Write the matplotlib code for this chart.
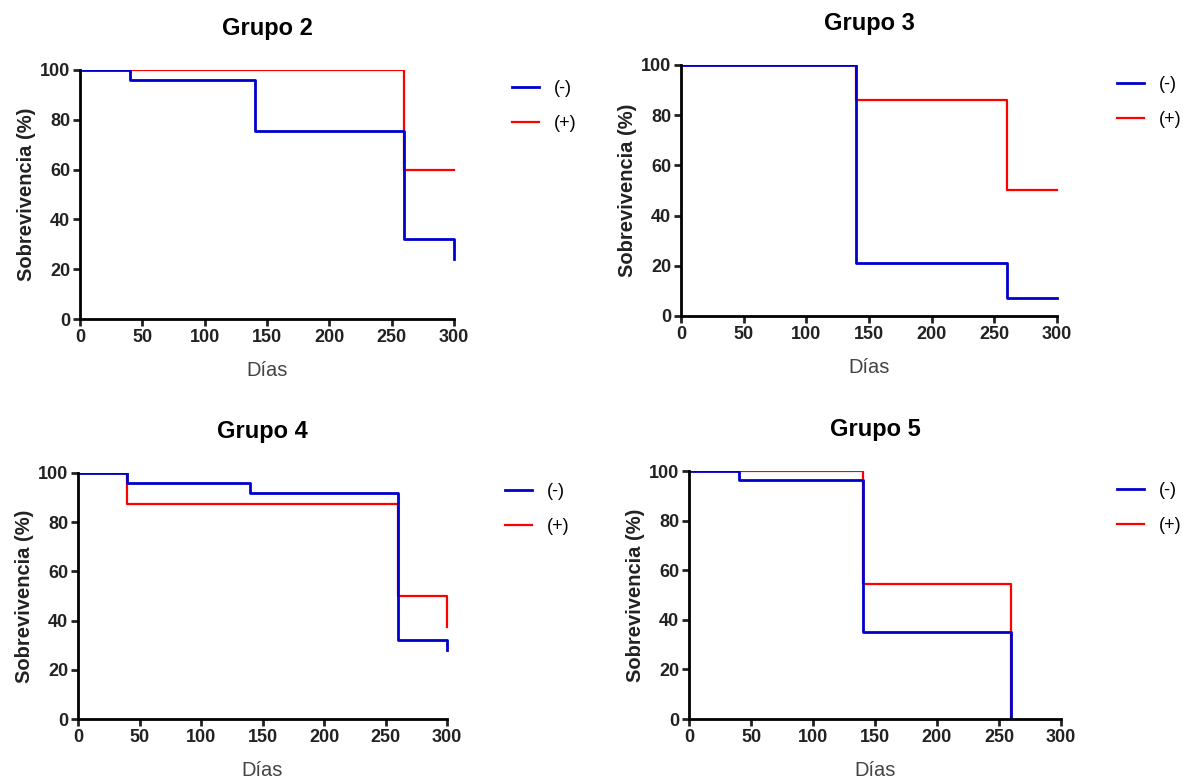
import matplotlib
matplotlib.use("Agg")
import matplotlib.pyplot as plt
from matplotlib.patches import Rectangle

plt.rcParams["font.family"] = ["Liberation Sans", "DejaVu Sans"]

# Kaplan-Meier style survival curves (step post), days vs survival %
titles = ["Grupo 2", "Grupo 3", "Grupo 4", "Grupo 5"]
labels = ["(-)", "(+)"]

neg_times = [
    [0, 40, 140, 260, 300],
    [0, 140, 260, 300],
    [0, 40, 140, 260, 300],
    [0, 40, 140, 260],
]
neg_surv = [
    [100, 96, 75.5, 32, 24],
    [100, 21, 7, 7],
    [100, 96, 92, 32, 28],
    [100, 96.5, 35, 0],
]
pos_times = [
    [0, 260, 300],
    [0, 140, 260, 300],
    [0, 40, 260, 300],
    [0, 140, 260],
]
pos_surv = [
    [100, 60, 60],
    [100, 86, 50, 50],
    [100, 87.5, 50, 37.5],
    [100, 54.5, 0],
]

x_ticks = [0, 50, 100, 150, 200, 250, 300]
y_ticks = [0, 20, 40, 60, 80, 100]

W, H = 1188, 780
fig = plt.figure(figsize=(W / 100, H / 100), dpi=100)

# axes boxes in pixels: left, right, top, bottom
boxes = [(80, 454, 70, 319), (681, 1057, 65, 316), (78, 447, 473, 719), (689, 1061, 471, 719)]
legend_pos = [(512, 80), (1117, 76), (505, 483), (1117, 482)]

for i in range(4):
    l, r, t, b = boxes[i]
    ax = fig.add_axes([l / W, 1 - b / H, (r - l) / W, (b - t) / H])
    red = ax.step(pos_times[i], pos_surv[i], where="post", color="#ff0000", lw=1.6, label=labels[1])
    blue = ax.step(neg_times[i], neg_surv[i], where="post", color="#0000cc", lw=2.0, label=labels[0])
    # clip only top/bottom so the last drop at day 300 is drawn in full
    clip = Rectangle((-10, 0), 320, 100, transform=ax.transData)
    for ln in red + blue:
        ln.set_clip_path(clip)
    ax.set_xlim(0, 300)
    ax.set_ylim(0, 100)
    ax.set_xticks(x_ticks)
    ax.set_yticks(y_ticks)
    for s in ["top", "right"]:
        ax.spines[s].set_visible(False)
    for s in ["left", "bottom"]:
        ax.spines[s].set_linewidth(2)
        ax.spines[s].set_color("black")
    ax.tick_params(direction="out", length=5, width=2, pad=2, labelsize=13, colors="#222222")
    for lab in ax.get_xticklabels() + ax.get_yticklabels():
        lab.set_fontweight("bold")
    ax.set_ylabel("Sobrevivencia (%)", fontsize=14.5, fontweight="bold", color="#222222", labelpad=3)
    ax.set_xlabel("Días", fontsize=14.5, color="#444444", labelpad=11)
    ax.set_title(titles[i], fontsize=17, fontweight="bold", pad=25)

    h, lb = ax.get_legend_handles_labels()
    lx, ly = legend_pos[i]
    ax.legend(h[::-1], lb[::-1], loc="upper left", bbox_to_anchor=(lx / W, 1 - ly / H),
              bbox_transform=fig.transFigure, frameon=False, fontsize=13,
              handlelength=1.5, handletextpad=0.8, labelspacing=1.0,
              borderpad=0, borderaxespad=0)

fig.savefig("out.png", dpi=100)
